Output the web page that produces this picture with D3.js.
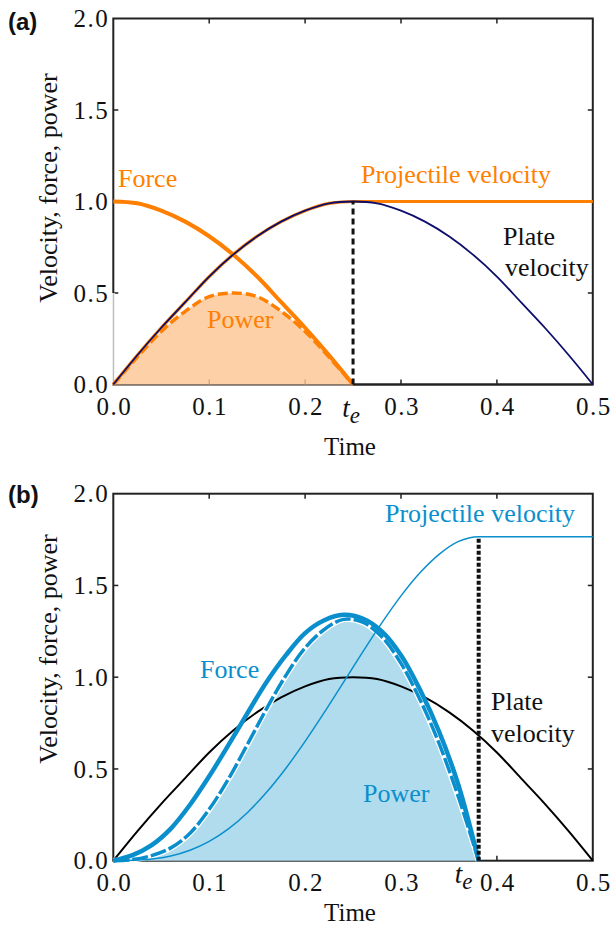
<!DOCTYPE html>
<html>
<head>
<meta charset="utf-8">
<script src="https://cdn.jsdelivr.net/npm/d3@7/dist/d3.min.js"></script>
<style>
  body { margin: 0; background: #fff; }
  svg { display: block; }
  text { font-family: "Liberation Serif", "Times New Roman", serif; }
  text.tag { font-family: "Liberation Sans", Arial, sans-serif; font-weight: bold; }
</style>
</head>
<body>
<div id="chart"></div>
<script>
// ---- data ----
// panel (a): normalised, contact ends at te = 0.25
var timeA = [0, 0.025, 0.05, 0.075, 0.1, 0.125, 0.15, 0.175, 0.2, 0.225, 0.25,
             0.275, 0.3, 0.325, 0.35, 0.375, 0.4, 0.425, 0.45, 0.475, 0.5];
var plateVelA = [0, 0.16, 0.31, 0.45, 0.59, 0.71, 0.81, 0.89, 0.95, 0.99, 1.00,
                 0.99, 0.95, 0.89, 0.81, 0.71, 0.59, 0.45, 0.31, 0.16, 0];
var contactTimeA = [0, 0.025, 0.05, 0.075, 0.1, 0.125, 0.15, 0.175, 0.2, 0.225, 0.25];
var forceA = [1.00, 0.99, 0.95, 0.89, 0.81, 0.71, 0.59, 0.45, 0.31, 0.16, 0];
var powerA = [0, 0.15, 0.29, 0.40, 0.48, 0.50, 0.48, 0.40, 0.29, 0.15, 0];
var projTimeA = [0, 0.025, 0.05, 0.075, 0.1, 0.125, 0.15, 0.175, 0.2, 0.225, 0.25, 0.5];
var projVelA = [0, 0.16, 0.31, 0.45, 0.59, 0.71, 0.81, 0.89, 0.95, 0.99, 1.00, 1.00];
var teA = 0.25;

// panel (b): contact ends at te = 0.381
var timeB = [0, 0.025, 0.05, 0.075, 0.1, 0.125, 0.15, 0.175, 0.2, 0.225, 0.25,
             0.275, 0.3, 0.325, 0.35, 0.375, 0.4, 0.425, 0.45, 0.475, 0.5];
var plateVelB = [0, 0.16, 0.31, 0.45, 0.59, 0.71, 0.81, 0.89, 0.95, 0.99, 1.00,
                 0.99, 0.95, 0.89, 0.81, 0.71, 0.59, 0.45, 0.31, 0.16, 0];
var contactTimeB = [0, 0.02, 0.04, 0.06, 0.08, 0.1, 0.12, 0.14, 0.16, 0.18, 0.2,
                    0.22, 0.24, 0.26, 0.28, 0.3, 0.32, 0.34, 0.36, 0.381];
var forceB = [0, 0.03, 0.085, 0.175, 0.305, 0.46, 0.63, 0.805, 0.975, 1.12, 1.24,
              1.31, 1.34, 1.32, 1.25, 1.12, 0.93, 0.70, 0.41, 0];
var powerB = [0, 0.006, 0.028, 0.07, 0.15, 0.28, 0.445, 0.635, 0.83, 1.01, 1.16,
              1.26, 1.315, 1.30, 1.22, 1.075, 0.876, 0.635, 0.345, 0];
var projTimeB = [0, 0.02, 0.04, 0.06, 0.08, 0.1, 0.12, 0.14, 0.16, 0.18, 0.2,
                 0.22, 0.24, 0.26, 0.28, 0.3, 0.32, 0.34, 0.36, 0.381, 0.5];
var projVelB = [0, 0.002, 0.009, 0.026, 0.057, 0.105, 0.173, 0.263, 0.374, 0.504, 0.650,
                0.808, 0.972, 1.137, 1.296, 1.443, 1.570, 1.671, 1.740, 1.766, 1.766];
var teB = 0.381;

var xTicks = [0, 0.1, 0.2, 0.3, 0.4, 0.5];
var yTicks = [0, 0.5, 1, 1.5, 2];
var xLabels = ["0.0", "0.1", "0.2", "0.3", "0.4", "0.5"];
var yLabels = ["0.0", "0.5", "1.0", "1.5", "2.0"];

var W = 610, H = 926;
var svg = d3.select("#chart").append("svg")
    .attr("width", W)
    .attr("height", H);

var axisColor = "#222";

function zip(xs, ys) {
    return xs.map(function (x, i) { return [x, ys[i]]; });
}

function drawFrame(g, x, y, opt) {
    var x0 = x.range()[0], x1 = x.range()[1];
    var y0 = y.range()[0], y1 = y.range()[1];

    // inward ticks, all four sides
    g.selectAll(".xtick-b").data(xTicks.slice(1, -1)).enter().append("line")
        .attr("x1", function (d) { return x(d); }).attr("x2", function (d) { return x(d); })
        .attr("y1", y0).attr("y2", y0 - 5)
        .attr("stroke", axisColor).attr("stroke-width", 1.5);
    g.selectAll(".xtick-t").data(xTicks.slice(1, -1)).enter().append("line")
        .attr("x1", function (d) { return x(d); }).attr("x2", function (d) { return x(d); })
        .attr("y1", y1).attr("y2", y1 + 5)
        .attr("stroke", axisColor).attr("stroke-width", 1.5);
    g.selectAll(".ytick-l").data(yTicks.slice(1, -1)).enter().append("line")
        .attr("x1", x0).attr("x2", x0 + 5)
        .attr("y1", function (d) { return y(d); }).attr("y2", function (d) { return y(d); })
        .attr("stroke", axisColor).attr("stroke-width", 1.5);
    g.selectAll(".ytick-r").data(yTicks.slice(1, -1)).enter().append("line")
        .attr("x1", x1).attr("x2", x1 - 5)
        .attr("y1", function (d) { return y(d); }).attr("y2", function (d) { return y(d); })
        .attr("stroke", axisColor).attr("stroke-width", 1.5);

    g.append("rect")
        .attr("x", x0).attr("y", y1)
        .attr("width", x1 - x0).attr("height", y0 - y1)
        .attr("fill", "none")
        .attr("stroke", axisColor)
        .attr("stroke-width", 2);

    // tick labels
    g.selectAll(".xlab").data(xTicks).enter().append("text")
        .attr("x", function (d) { return x(d) + 1; })
        .attr("y", y0 + 30)
        .attr("text-anchor", "middle")
        .attr("font-size", 25)
        .attr("letter-spacing", 1.5)
        .attr("fill", "#111")
        .text(function (d, i) { return xLabels[i]; });
    g.selectAll(".ylab").data(yTicks).enter().append("text")
        .attr("x", x0 - 4)
        .attr("y", function (d) { return y(d); })
        .attr("dy", "0.35em")
        .attr("text-anchor", "end")
        .attr("font-size", 25)
        .attr("letter-spacing", 1.5)
        .attr("fill", "#111")
        .text(function (d, i) { return yLabels[i]; });

    // t_e label
    var teText = g.append("text")
        .attr("x", x(opt.te) + opt.teDx)
        .attr("y", y0 + opt.teDy)
        .attr("text-anchor", "middle")
        .attr("font-size", 27)
        .attr("font-style", "italic")
        .attr("fill", "#111");
    teText.append("tspan").text("t");
    teText.append("tspan").attr("dy", 6).attr("font-size", 23).text("e");

    g.append("text")
        .attr("x", 350)
        .attr("y", y0 + opt.timeDy)
        .attr("text-anchor", "middle")
        .attr("font-size", 25)
        .attr("fill", "#111")
        .text("Time");
}

function yTitle(g, cx, cy) {
    g.append("text")
        .attr("transform", "translate(" + cx + "," + cy + ") rotate(-90)")
        .attr("text-anchor", "middle")
        .attr("dy", "0.35em")
        .attr("font-size", 26)
        .attr("fill", "#111")
        .text("Velocity, force, power");
}

function panelTag(g, x, y, label) {
    g.append("text")
        .attr("class", "tag")
        .attr("x", x).attr("y", y)
        .attr("font-size", 24)
        .attr("fill", "#111")
        .text(label);
}

function label(g, x, y, txt, color) {
    g.append("text")
        .attr("x", x).attr("y", y)
        .attr("font-size", 26)
        .attr("fill", color)
        .text(txt);
}

var curve = d3.curveCatmullRom;

// ================= panel (a) =================
(function () {
    var orange = "#ff7f00";
    var navy = "#0d0d6b";
    var g = svg.append("g");
    var x = d3.scaleLinear().domain([0, 0.5]).range([113.3, 592.8]);
    var y = d3.scaleLinear().domain([0, 2]).range([384.5, 18.5]);

    var line = d3.line().x(function (d) { return x(d[0]); }).y(function (d) { return y(d[1]); }).curve(curve);
    var area = d3.area().x(function (d) { return x(d[0]); }).y0(y(0)).y1(function (d) { return y(d[1]); }).curve(curve);

    drawFrame(g, x, y, {te: teA, teDx: -2, teDy: 32, timeDy: 70});

    // left axis hidden under the plot below 0.5
    g.append("line")
        .attr("x1", x(0)).attr("x2", x(0))
        .attr("y1", y(0)).attr("y2", y(0.5))
        .attr("stroke", "#fff").attr("stroke-width", 3);
    g.append("line")
        .attr("x1", x(0)).attr("x2", x(0))
        .attr("y1", y(0)).attr("y2", y(0.5))
        .attr("stroke", "#aaa").attr("stroke-width", 1);

    g.append("path").datum(zip(contactTimeA, powerA))
        .attr("d", area).attr("fill", "#fdd0a8");
    // faint ticks showing through the filling
    g.selectAll(".ftick").data([0.1, 0.2]).enter().append("line")
        .attr("x1", function (d) { return x(d); }).attr("x2", function (d) { return x(d); })
        .attr("y1", y(0)).attr("y2", y(0) - 5)
        .attr("stroke", "#b89a80").attr("stroke-width", 1);
    g.append("line")
        .attr("x1", x(teA)).attr("x2", x(0.5))
        .attr("y1", y(0)).attr("y2", y(0))
        .attr("stroke", axisColor).attr("stroke-width", 2);
    g.append("path").datum(zip(contactTimeA, powerA))
        .attr("d", line).attr("fill", "none")
        .attr("stroke", orange).attr("stroke-width", 3.5)
        .attr("stroke-dasharray", "10,4");
    g.append("path").datum(zip(contactTimeA, forceA))
        .attr("d", line).attr("fill", "none")
        .attr("stroke", orange).attr("stroke-width", 4);
    g.append("path").datum(zip(projTimeA, projVelA))
        .attr("d", d3.line().x(function (d) { return x(d[0]); }).y(function (d) { return y(d[1]); }).curve(d3.curveMonotoneX))
        .attr("fill", "none")
        .attr("stroke", orange).attr("stroke-width", 3.2);
    g.append("path").datum(zip(timeA, plateVelA))
        .attr("d", line).attr("fill", "none")
        .attr("stroke", navy).attr("stroke-width", 1.8);
    g.append("line")
        .attr("x1", x(teA)).attr("x2", x(teA))
        .attr("y1", y(0)).attr("y2", y(1))
        .attr("stroke", "#111").attr("stroke-width", 3)
        .attr("stroke-dasharray", "6,4");

    label(g, 118, 187, "Force", orange);
    label(g, 361, 183, "Projectile velocity", orange);
    label(g, 207, 328, "Power", orange);
    label(g, 503, 245, "Plate", "#111");
    label(g, 505, 276, "velocity", "#111");

    yTitle(g, 48, 188);
    panelTag(g, 8, 30, "(a)");
})();

// ================= panel (b) =================
(function () {
    var blue = "#0a8fcc";
    var g = svg.append("g");
    var x = d3.scaleLinear().domain([0, 0.5]).range([113.3, 592.8]);
    var y = d3.scaleLinear().domain([0, 2]).range([860.7, 493.7]);

    var line = d3.line().x(function (d) { return x(d[0]); }).y(function (d) { return y(d[1]); }).curve(curve);
    var area = d3.area().x(function (d) { return x(d[0]); }).y0(y(0)).y1(function (d) { return y(d[1]); }).curve(curve);

    drawFrame(g, x, y, {te: teB, teDx: -15, teDy: 22, timeDy: 60});

    g.append("path").datum(zip(contactTimeB, powerB))
        .attr("d", area).attr("fill", "#b0dcee");
    g.append("path").datum(zip(timeB, plateVelB))
        .attr("d", line).attr("fill", "none")
        .attr("stroke", "#000").attr("stroke-width", 2);
    g.append("path").datum(zip(contactTimeB, powerB))
        .attr("d", line).attr("fill", "none")
        .attr("stroke", "#fff").attr("stroke-width", 6);
    g.append("path").datum(zip(contactTimeB, powerB))
        .attr("d", line).attr("fill", "none")
        .attr("stroke", blue).attr("stroke-width", 3.5)
        .attr("stroke-dasharray", "16,3");
    g.append("path").datum(zip(contactTimeB, forceB))
        .attr("d", line).attr("fill", "none")
        .attr("stroke", blue).attr("stroke-width", 4.5);
    g.append("path").datum(zip(projTimeB, projVelB))
        .attr("d", d3.line().x(function (d) { return x(d[0]); }).y(function (d) { return y(d[1]); }).curve(d3.curveMonotoneX))
        .attr("fill", "none")
        .attr("stroke", blue).attr("stroke-width", 1.5);
    g.append("line")
        .attr("x1", x(teB)).attr("x2", x(teB))
        .attr("y1", y(0)).attr("y2", y(1.766))
        .attr("stroke", "#111").attr("stroke-width", 4)
        .attr("stroke-dasharray", "4,2");

    label(g, 200, 678, "Force", blue);
    label(g, 363, 802, "Power", blue);
    label(g, 385, 522, "Projectile velocity", blue);
    label(g, 491, 710, "Plate", "#111");
    label(g, 491, 742, "velocity", "#111");

    yTitle(g, 48, 649);
    panelTag(g, 8, 503, "(b)");
})();
</script>
</body>
</html>
